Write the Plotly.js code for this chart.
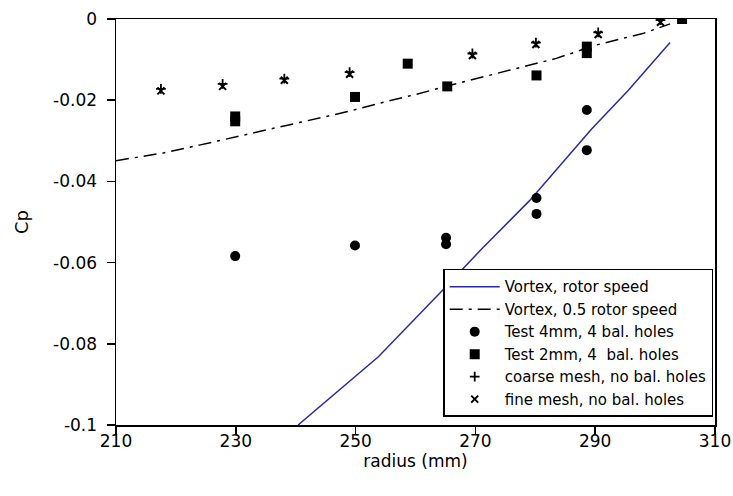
<!DOCTYPE html>
<html>
<head>
<meta charset="utf-8">
<script src="https://cdn.plot.ly/plotly-3.0.1.min.js"></script>
<style>html,body{margin:0;padding:0;background:#fff;}#chart{width:733px;height:496px;}</style>
</head>
<body>
<div id="chart"></div>
<script>
// Vortex, rotor speed
const vortexX = [240.4, 253.8, 264.6, 271.2, 279.0, 289.4, 295.5, 302.5];
const vortexY = [-0.1, -0.0832, -0.0667, -0.0564, -0.0448, -0.0271, -0.0176, -0.0058];
// Vortex, 0.5 rotor speed
const halfX = [210, 217.9, 224.1, 229.7, 235.9, 242.9, 249.0, 254.9, 260.0, 266.1, 277.9, 283.5, 290.2, 295.3, 298.1, 302.5];
const halfY = [-0.0349, -0.033, -0.031, -0.0291, -0.0271, -0.0246, -0.0227, -0.0204, -0.0186, -0.0162, -0.0118, -0.0097, -0.0064, -0.0045, -0.0035, -0.0012];
// Test 4mm, 4 bal. holes
const test4X = [229.9, 249.9, 265.1, 265.1, 280.2, 280.2, 288.6, 288.6];
const test4Y = [-0.0584, -0.0558, -0.0539, -0.0555, -0.0441, -0.0480, -0.0224, -0.0323];
// Test 2mm, 4 bal. holes
const test2X = [229.9, 229.9, 249.9, 258.7, 265.3, 280.2, 288.6, 288.6, 304.5];
const test2Y = [-0.0240, -0.0252, -0.0192, -0.0110, -0.0166, -0.0139, -0.0068, -0.0084, 0.0];
// coarse mesh, no bal. holes
const coarseX = [217.5, 227.8, 238.1, 249.0, 269.5, 280.1, 290.5, 300.9];
const coarseY = [-0.0172, -0.0160, -0.0147, -0.0131, -0.0085, -0.0058, -0.0033, -0.0003];
// fine mesh, no bal. holes
const fineX = [217.5, 227.8, 238.1, 249.0, 269.5, 280.1, 290.5, 300.9];
const fineY = [-0.0177, -0.0166, -0.0151, -0.0136, -0.0090, -0.0063, -0.0038, -0.0008];

const seriesNames = ["Vortex, rotor speed", "Vortex, 0.5 rotor speed", "Test 4mm, 4 bal. holes",
  "Test 2mm, 4  bal. holes", "coarse mesh, no bal. holes", "fine mesh, no bal. holes"];

const xTickVals = [210, 230, 250, 270, 290, 310];
const xTickText = ["210", "230", "250", "270", "290", "310"];
const yTickVals = [0, -0.02, -0.04, -0.06, -0.08, -0.1];
const yTickText = ["0", "-0.02", "-0.04", "-0.06", "-0.08", "-0.1"];

const FONT = "DejaVu Sans, Arial, sans-serif";

const traces = [
  {x: vortexX, y: vortexY, name: seriesNames[0], mode: "lines",
   line: {color: "#2a2aa6", width: 1.5}},
  {x: halfX, y: halfY, name: seriesNames[1], mode: "lines",
   line: {color: "#000", width: 1.5, dash: "13px,6px,3px,6px"}},
  {x: test4X, y: test4Y, name: seriesNames[2], mode: "markers",
   marker: {symbol: "circle", size: 10, color: "#000"}},
  {x: test2X, y: test2Y, name: seriesNames[3], mode: "markers",
   marker: {symbol: "square", size: 10, color: "#000"}},
  {x: coarseX, y: coarseY, name: seriesNames[4], mode: "markers",
   marker: {symbol: "cross-thin", size: 7, color: "#000", line: {color: "#000", width: 1.8}}},
  {x: fineX, y: fineY, name: seriesNames[5], mode: "markers",
   marker: {symbol: "x-thin", size: 7, color: "#000", line: {color: "#000", width: 2}}}
];

const layout = {
  width: 733, height: 496,
  margin: {l: 116, r: 18, t: 19, b: 71},
  paper_bgcolor: "#fff", plot_bgcolor: "#fff",
  font: {family: FONT, size: 17, color: "#000"},
  showlegend: true,
  xaxis: {
    range: [210, 310], tickvals: xTickVals, ticktext: xTickText,
    showgrid: false, zeroline: false, showline: true, mirror: true,
    linecolor: "#000", linewidth: 1.5, ticks: "outside", ticklen: 8, tickwidth: 1.5, tickcolor: "#000",
    tickfont: {family: FONT, size: 17}, ticklabelstandoff: -8,
    title: {text: "radius (mm)", font: {family: FONT, size: 17}, standoff: 4}
  },
  yaxis: {
    range: [-0.1, 0], tickvals: yTickVals, ticktext: yTickText,
    showgrid: false, zeroline: false, showline: true, mirror: true,
    linecolor: "#000", linewidth: 1.5, ticks: "outside", ticklen: 8, tickwidth: 1.5, tickcolor: "#000",
    tickfont: {family: FONT, size: 17}, ticklabelstandoff: 6,
    title: {text: "Cp", font: {family: FONT, size: 18}, standoff: 20}
  },
  legend: {
    x: 0.997, y: 0.02, xanchor: "right", yanchor: "bottom",
    bgcolor: "#fff", bordercolor: "#000", borderwidth: 1.5,
    font: {family: FONT, size: 15, color: "#000"},
    itemwidth: 50, tracegroupgap: 0, entrywidth: 270, entrywidthmode: "pixels"
  }
};

Plotly.newPlot("chart", traces, layout, {displayModeBar: false, staticPlot: true});
</script>
</body>
</html>
